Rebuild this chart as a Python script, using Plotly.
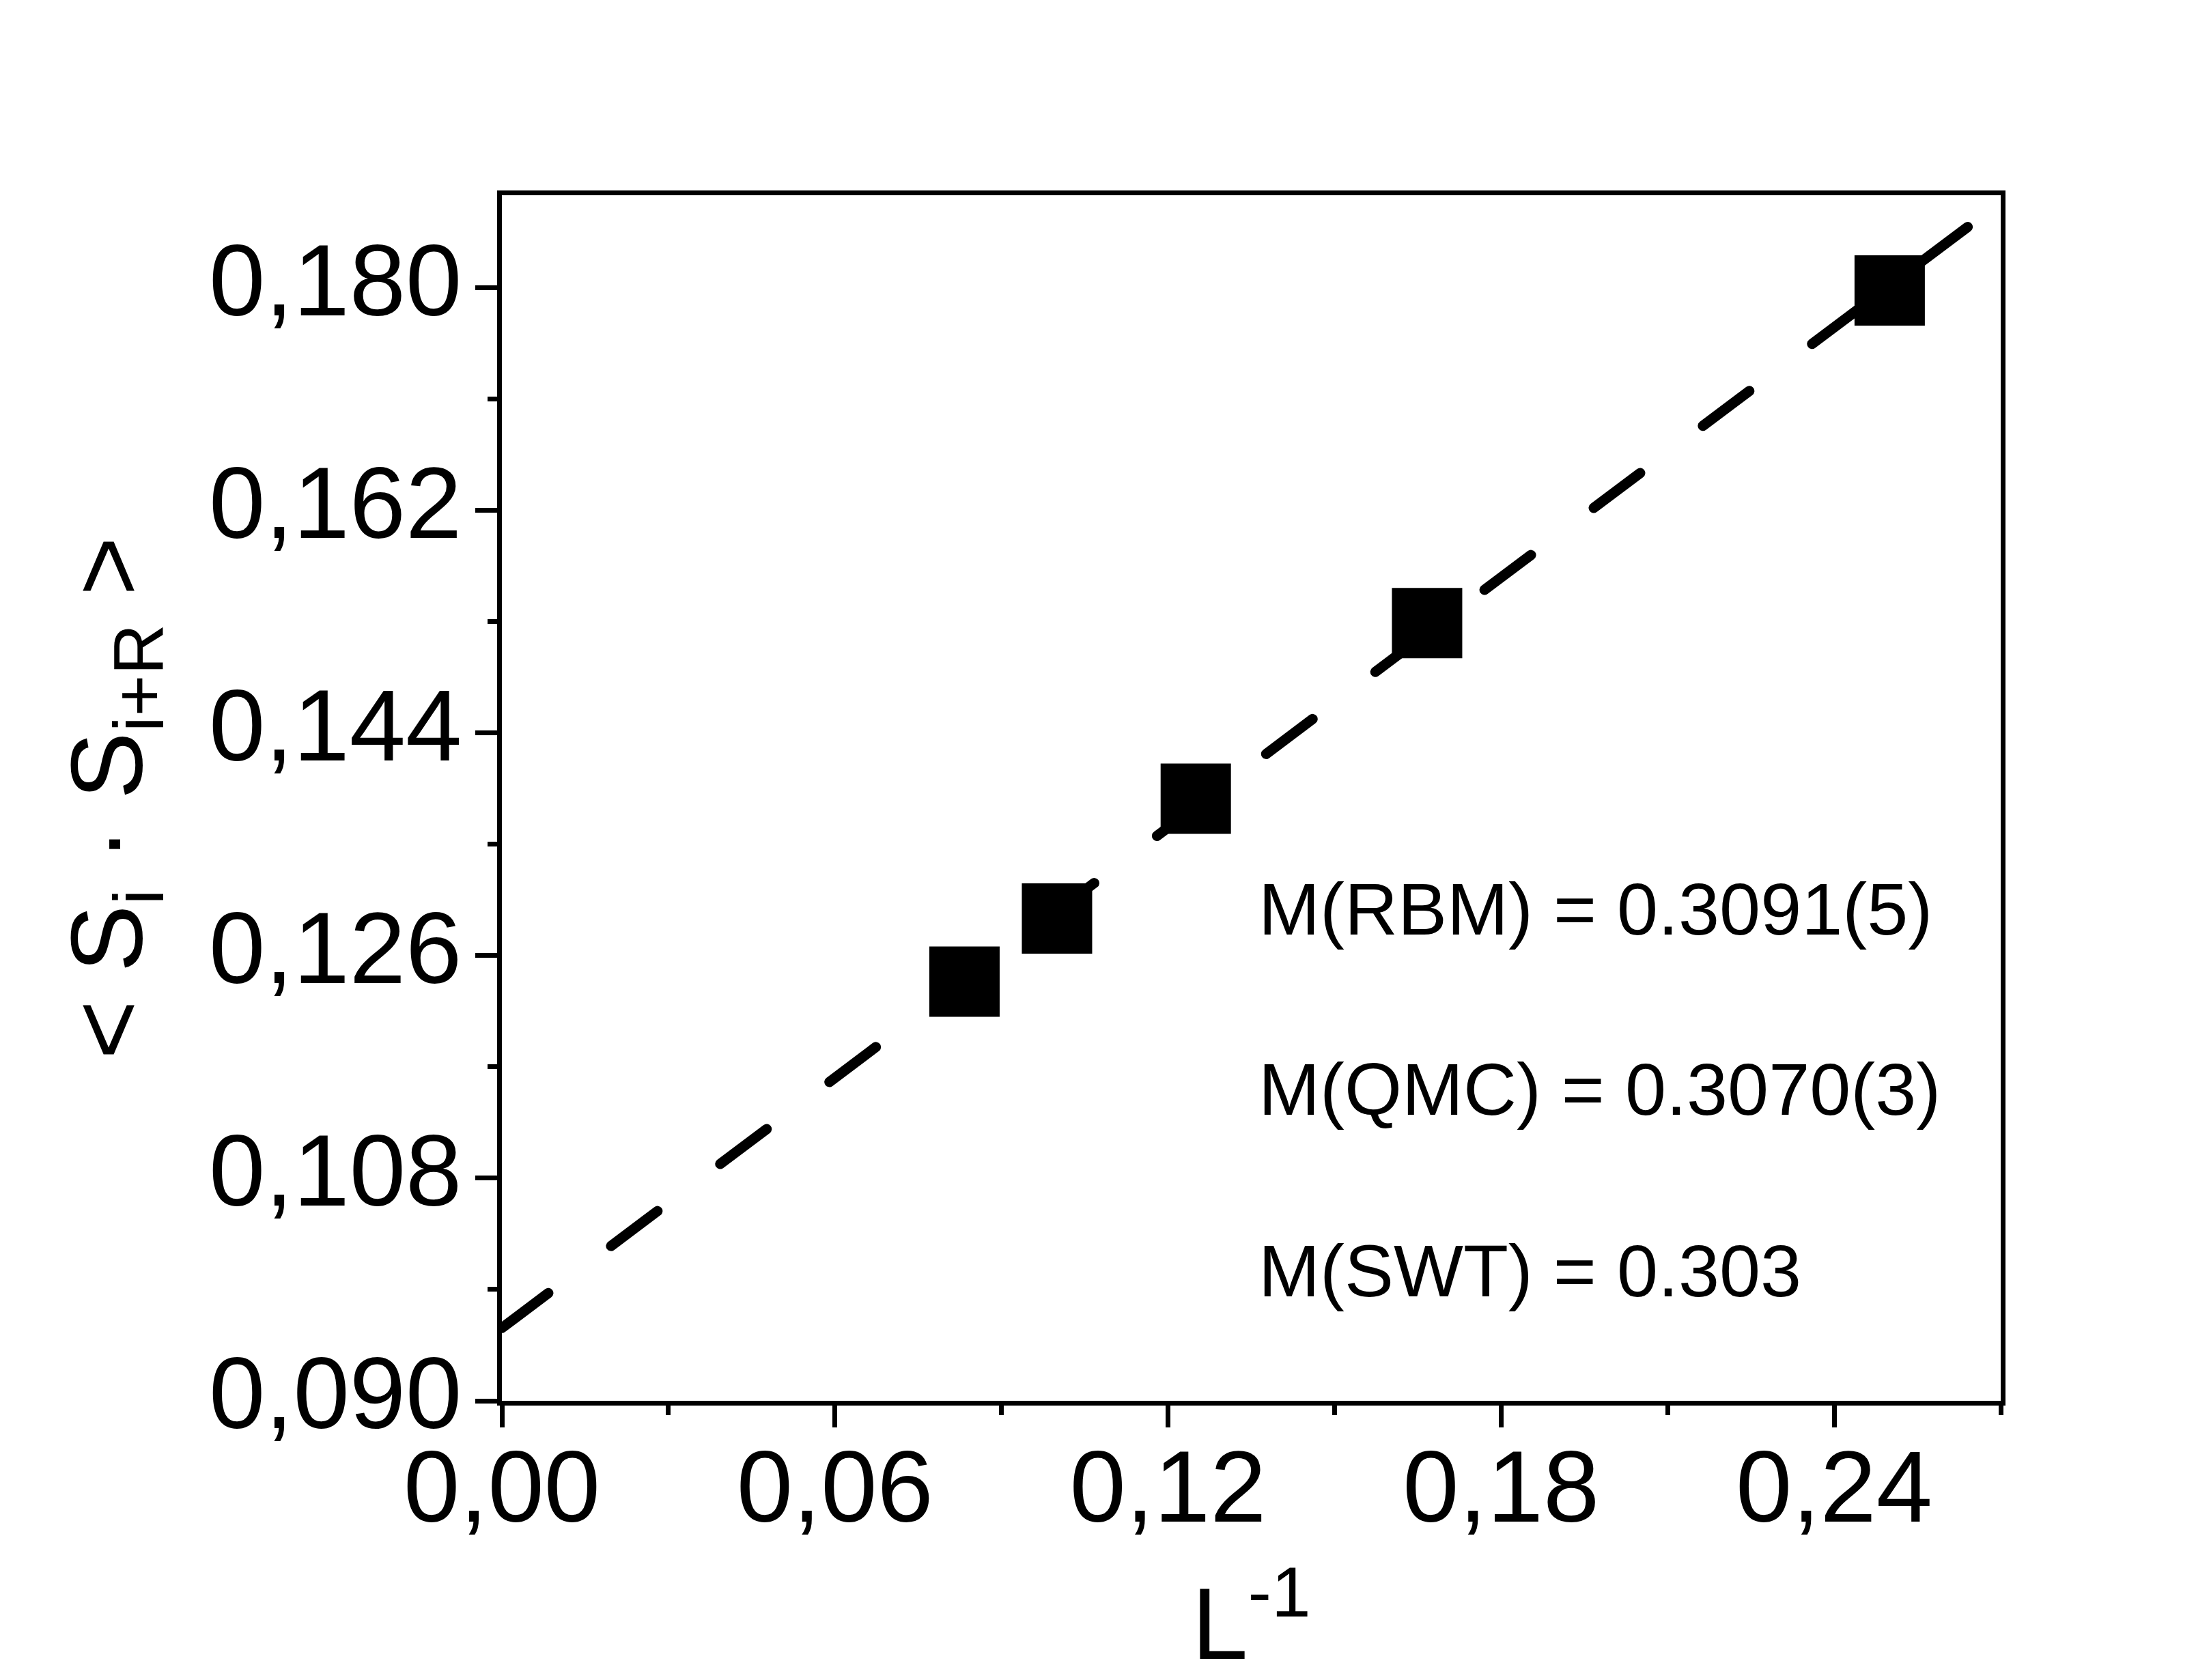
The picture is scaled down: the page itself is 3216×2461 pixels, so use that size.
import plotly.graph_objects as go

# ---- data ----
inv_L = [1/12, 0.10, 0.125, 1/6, 0.25]
corr = [0.1239, 0.1290, 0.1387, 0.1529, 0.1798]

fit_x = [0.0, 0.2655]
fit_y = [0.09589, 0.18542]

x_ticks = [0.00, 0.06, 0.12, 0.18, 0.24]
y_ticks = [0.090, 0.108, 0.126, 0.144, 0.162, 0.180]

notes = ["M(RBM) = 0.3091(5)", "M(QMC) = 0.3070(3)", "M(SWT) = 0.303"]
note_y = [0.1298, 0.1152, 0.1005]
note_x = 0.1360

FONT = "Liberation Sans, Arial, sans-serif"

fig = go.Figure()

fig.add_trace(go.Scatter(
    x=fit_x, y=fit_y, mode="lines",
    line=dict(color="black", width=15, dash="85px,115px"),
    showlegend=False, hoverinfo="skip",
))

fig.add_trace(go.Scatter(
    x=inv_L, y=corr, mode="markers",
    marker=dict(symbol="square", size=103, color="black", line=dict(width=0)),
    showlegend=False,
))

for t, yv in zip(notes, note_y):
    fig.add_annotation(
        x=note_x, y=yv, xref="x", yref="y", text=t, showarrow=False,
        xanchor="left", yanchor="middle",
        font=dict(family=FONT, size=108, color="black"),
    )

axis_common = dict(
    showgrid=False, zeroline=False,
    showline=True, linecolor="black", linewidth=7, mirror=True,
    ticks="outside", ticklen=32, tickwidth=6.5, tickcolor="black",
    tickfont=dict(family=FONT, size=148, color="black"),
)

fig.update_xaxes(
    range=[0, 0.27], tickvals=x_ticks, tickformat=".2f",
    ticklabelstandoff=-40,
    minor=dict(ticks="outside", ticklen=14, tickwidth=6.5, tickcolor="black", dtick=0.03, tick0=0),
    title=dict(text="L<sup>-1</sup>", font=dict(family=FONT, size=148, color="black"), standoff=75),
    **axis_common,
)
fig.update_yaxes(
    range=[0.09, 0.1875], tickvals=y_ticks, tickformat=".3f",
    ticklabelstandoff=-10, ticklabelshift=-12,
    minor=dict(ticks="outside", ticklen=14, tickwidth=6.5, tickcolor="black", dtick=0.009, tick0=0.09),
    title=dict(text="&lt; S<sub>i</sub> · S<sub>i+R</sub> &gt;", font=dict(family=FONT, size=148, color="black"), standoff=50),
    **axis_common,
)

fig.update_layout(
    width=3216, height=2461,
    margin=dict(l=735, r=286, t=285.5, b=409.3, autoexpand=False),
    paper_bgcolor="white", plot_bgcolor="white",
    separators=",.",
    font=dict(family=FONT, color="black"),
)

post = ("document.querySelectorAll('.scatterlayer .trace path.js-line')"
        ".forEach(function(p){p.style.strokeLinecap='round';});")
fig.write_html("out.html", post_script=post)
